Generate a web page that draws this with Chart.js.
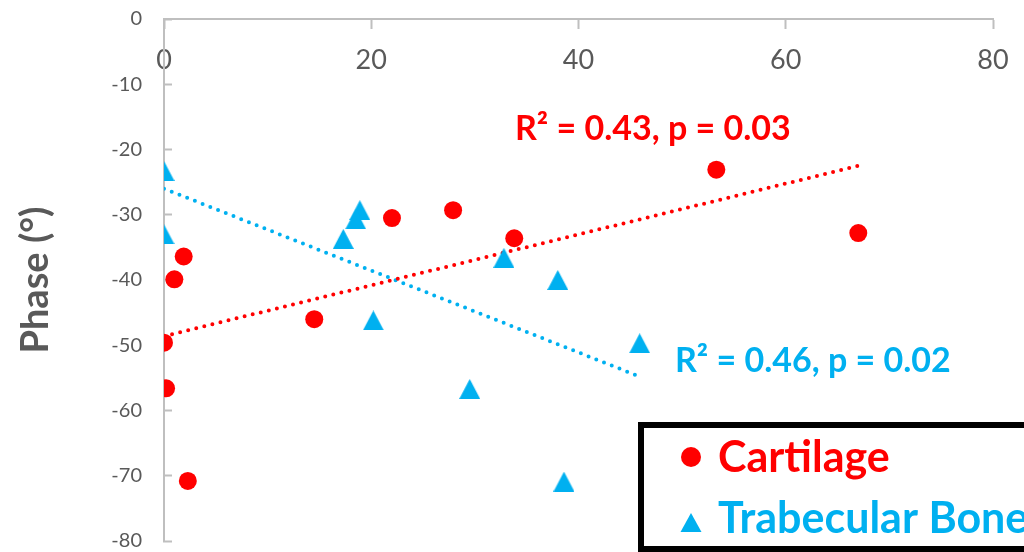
<!DOCTYPE html>
<html>
<head>
<meta charset="utf-8">
<script src="https://cdn.jsdelivr.net/npm/chart.js@4.4.1/dist/chart.umd.min.js"></script>
<style>
  html, body { margin: 0; padding: 0; background: #ffffff; overflow: hidden; }
  #wrap { width: 1024px; height: 552px; position: relative; }
</style>
</head>
<body>
<div id="wrap"><canvas id="c" width="1024" height="552"></canvas></div>
<script>
// ---- data ----
const seriesNames = ['Cartilage', 'Trabecular Bone'];
const cartilageX = [0, 0.2, 1.0, 1.9, 2.3, 14.5, 22.0, 27.9, 33.8, 53.3, 67.0];
const cartilageY = [-49.6, -56.6, -39.9, -36.4, -70.8, -46.0, -30.5, -29.3, -33.6, -23.1, -32.8];
const boneX = [0, 0, 17.3, 18.9, 18.5, 20.2, 32.8, 38.0, 29.5, 38.6, 45.9];
const boneY = [-23.3, -33.0, -33.7, -29.3, -30.7, -46.2, -36.6, -40.0, -56.7, -70.9, -49.7];
const cartilageTrendX = [0, 67.0];
const cartilageTrendY = [-48.6, -22.5];
const boneTrendX = [0, 45.9];
const boneTrendY = [-26.0, -54.8];
const xTicks = [0, 20, 40, 60, 80];
const yTicks = [0, -10, -20, -30, -40, -50, -60, -70, -80];
const yTitle = 'Phase (°)';
const fitLabels = ['R² = 0.43, p = 0.03', 'R² = 0.46, p = 0.02'];

// ---- styles ----
const RED = '#FF0000';
const BLUE = '#00B0F0';
const AXIS = '#BFBFBF';
const TXT = '#595959';
const FONT = 'Lato';

function pts(xs, ys) { return xs.map((x, i) => ({ x: x, y: ys[i] })); }

function triangleImg(w, h, color) {
  const c = document.createElement('canvas');
  c.width = w; c.height = h;
  const g = c.getContext('2d');
  g.fillStyle = color;
  g.beginPath();
  g.moveTo(w / 2, 0);
  g.lineTo(w, h);
  g.lineTo(0, h);
  g.closePath();
  g.fill();
  return c;
}
const triMarker = triangleImg(21, 20, BLUE);

const overlay = {
  id: 'overlay',
  afterDraw(chart) {
    const ctx = chart.ctx;
    ctx.save();
    ctx.textAlign = 'left';
    ctx.textBaseline = 'alphabetic';
    ctx.font = 'bold 34px ' + FONT;
    ctx.fillStyle = RED;
    ctx.fillText(fitLabels[0], 515, 140);
    ctx.fillStyle = BLUE;
    ctx.fillText(fitLabels[1], 675, 372);

    // legend box
    ctx.lineWidth = 6;
    ctx.strokeStyle = '#000000';
    ctx.strokeRect(641, 425, 500, 124);
    ctx.fillStyle = RED;
    ctx.beginPath();
    ctx.arc(691, 457, 10, 0, Math.PI * 2);
    ctx.fill();
    ctx.fillStyle = BLUE;
    ctx.beginPath();
    ctx.moveTo(691, 513);
    ctx.lineTo(701.5, 532);
    ctx.lineTo(680.5, 532);
    ctx.closePath();
    ctx.fill();
    ctx.font = 'bold 43px ' + FONT;
    ctx.fillStyle = RED;
    ctx.fillText(seriesNames[0], 718, 472);
    ctx.fillStyle = BLUE;
    ctx.fillText(seriesNames[1], 718, 533);
    ctx.restore();
  }
};

const dotted = { borderWidth: 4, borderDash: [0, 8.3], borderCapStyle: 'round', pointRadius: 0, showLine: true, fill: false, tension: 0 };

new Chart(document.getElementById('c'), {
  type: 'scatter',
  data: {
    datasets: [
      Object.assign({ label: 'Cartilage fit', data: pts(cartilageTrendX, cartilageTrendY), borderColor: RED, order: 3 }, dotted),
      Object.assign({ label: 'Bone fit', data: pts(boneTrendX, boneTrendY), borderColor: BLUE, order: 4 }, dotted),
      { label: seriesNames[1], data: pts(boneX, boneY), pointStyle: triMarker, backgroundColor: BLUE, borderColor: BLUE, order: 2 },
      { label: seriesNames[0], data: pts(cartilageX, cartilageY), pointStyle: 'circle', pointRadius: 9, backgroundColor: RED, borderColor: RED, borderWidth: 0, order: 1 }
    ]
  },
  options: {
    responsive: false,
    animation: false,
    devicePixelRatio: 1,
    events: [],
    layout: { padding: { top: 19, right: 31, bottom: 11, left: 0 } },
    plugins: { legend: { display: false }, tooltip: { enabled: false } },
    scales: {
      x: {
        type: 'linear',
        position: { y: 0 },
        min: 0, max: 80,
        afterBuildTicks: (s) => { s.ticks = xTicks.map(v => ({ value: v })); },
        afterFit: (s) => { s.paddingLeft = 0; s.paddingRight = 0; },
        grid: { drawOnChartArea: false, drawTicks: true, tickLength: 9, tickWidth: 2, tickColor: AXIS },
        border: { display: true, color: AXIS, width: 2 },
        ticks: { color: TXT, font: { family: FONT, size: 27 }, padding: 16, maxRotation: 0 }
      },
      y: {
        type: 'linear',
        position: 'left',
        min: -80, max: 0,
        afterBuildTicks: (s) => { s.ticks = yTicks.map(v => ({ value: v })); },
        afterFit: (s) => { s.width = 164; s.paddingTop = 0; s.paddingBottom = 0; },
        grid: { drawOnChartArea: false, drawTicks: true, tickLength: -8, tickWidth: 2, tickColor: AXIS },
        border: { display: true, color: AXIS, width: 2 },
        ticks: { color: TXT, font: { family: FONT, size: 20 }, padding: 30 },
        title: { display: true, text: yTitle, color: TXT, font: { family: FONT, size: 38, weight: 'bold', lineHeight: 1.2 }, padding: { top: 13, bottom: 0 } }
      }
    }
  },
  plugins: [overlay]
});
</script>
</body>
</html>
